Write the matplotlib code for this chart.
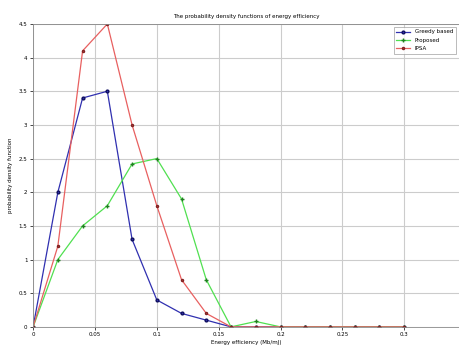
import matplotlib
matplotlib.use("Agg")
import matplotlib.pyplot as plt

x = [0.0, 0.02, 0.04, 0.06, 0.08, 0.10, 0.12, 0.14, 0.16, 0.18, 0.20, 0.22, 0.24, 0.26, 0.28, 0.30]
greedy = [0.0, 2.0, 3.4, 3.5, 1.3, 0.4, 0.2, 0.1, 0.0, 0.0, 0.0, 0.0, 0.0, 0.0, 0.0, 0.0]
proposed = [0.0, 1.0, 1.5, 1.8, 2.42, 2.5, 1.9, 0.7, 0.0, 0.08, 0.0, 0.0, 0.0, 0.0, 0.0, 0.0]
ipsa = [0.0, 1.2, 4.1, 4.5, 3.0, 1.8, 0.7, 0.2, 0.0, 0.0, 0.0, 0.0, 0.0, 0.0, 0.0, 0.0]
labels = ["Greedy based", "Proposed", "IPSA"]
xticks = [0, 0.05, 0.1, 0.15, 0.2, 0.25, 0.3]
yticks = [0, 0.5, 1, 1.5, 2, 2.5, 3, 3.5, 4, 4.5]

fig = plt.figure(figsize=(4.6, 3.47), dpi=100)
ax = fig.add_axes([0.072, 0.058, 0.925, 0.873])
ax.plot(x, greedy, color="#3030b0", marker=".", markersize=4, mec="#101060", lw=0.9, label=labels[0])
ax.plot(x, proposed, color="#50e050", marker="+", markersize=3, mec="#208020", lw=0.9, label=labels[1])
ax.plot(x, ipsa, color="#e86060", marker=".", markersize=3, mec="#802020", lw=0.9, label=labels[2])
ax.set_xlim(0, 0.344)
ax.set_ylim(0, 4.5)
ax.set_xticks(xticks)
ax.set_xticklabels(["0", "0.05", "0.1", "0.15", "0.2", "0.25", "0.3"])
ax.set_yticks(yticks)
ax.set_yticklabels(["0", "0.5", "1", "1.5", "2", "2.5", "3", "3.5", "4", "4.5"])
ax.tick_params(labelsize=4, length=2, width=0.5, pad=2)
ax.grid(True, color="#cccccc", lw=0.8)
for s in ax.spines.values():
    s.set_linewidth(0.6)
    s.set_color("#888888")
ax.set_title("The probability density functions of energy efficiency", fontsize=4, pad=4)
ax.set_xlabel("Energy efficiency (Mb/mJ)", fontsize=4, labelpad=2)
ax.set_ylabel("probability density function", fontsize=4, labelpad=4)
leg = ax.legend(loc="upper right", fontsize=4, frameon=True, fancybox=False,
                edgecolor="#888888", handlelength=2.5, borderpad=0.5, labelspacing=0.6)
leg.get_frame().set_linewidth(0.5)
fig.savefig("out.png", dpi=100)
